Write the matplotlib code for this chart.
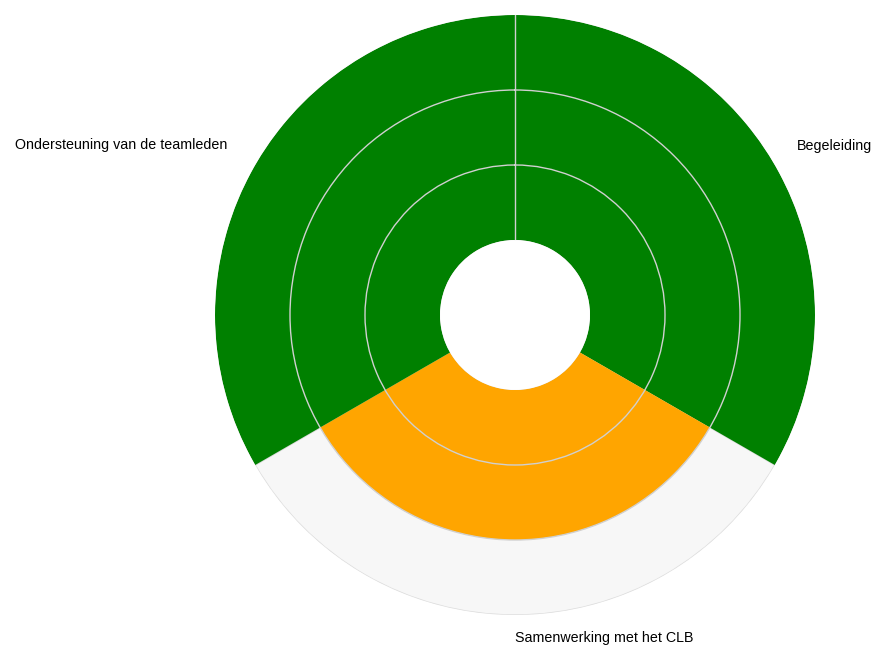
import numpy as np
import matplotlib
matplotlib.use("Agg")
import matplotlib.pyplot as plt

categories = ["Begeleiding", "Samenwerking met het CLB", "Ondersteuning van de teamleden"]
values = [3, 2, 3]
colors = ["#008000", "#FFA500", "#008000"]
max_value = 3

plt.rcParams['font.family'] = ['Liberation Sans', 'DejaVu Sans']

fig = plt.figure(figsize=(8.82, 6.48), dpi=100)
ax = fig.add_axes([215/882, 33/648, 600/882, 600/648], projection='polar')
ax.set_theta_zero_location('N')
ax.set_theta_direction(-1)
ax.set_rorigin(-1)
ax.set_ylim(0, max_value)

n = len(categories)
width = 2*np.pi/n
starts = np.arange(n)*width

# background
ax.bar(starts, [max_value]*n, width=width, align='edge', color='#f7f7f7',
       edgecolor='#dddddd', linewidth=1, zorder=1)
ax.bar(starts, values, width=width, align='edge', color=colors, edgecolor='none',
       linewidth=0, zorder=2)

ax.set_xticks([0])
ax.set_xticklabels([])
ax.set_yticks([1, 2])
ax.set_yticklabels([])
ax.grid(True, color='#d0d0d0', linewidth=1)
ax.set_axisbelow(False)
for key in ['polar', 'start', 'end', 'inner']:
    if key in ax.spines:
        ax.spines[key].set_visible(False)
        ax.spines[key].set_linewidth(0)
ax.patch.set_visible(False)
ax.tick_params(length=0)

# labels
fs = 10.3
ax.text(np.deg2rad(59), 3.38, categories[0], ha='left', va='center', fontsize=fs, clip_on=False)
ax.text(np.deg2rad(180), 3.31, categories[1], ha='left', va='center', fontsize=fs, clip_on=False)
ax.text(np.deg2rad(-59.4), 3.45, categories[2], ha='right', va='center', fontsize=fs, clip_on=False)

fig.savefig("out.png", dpi=100)
